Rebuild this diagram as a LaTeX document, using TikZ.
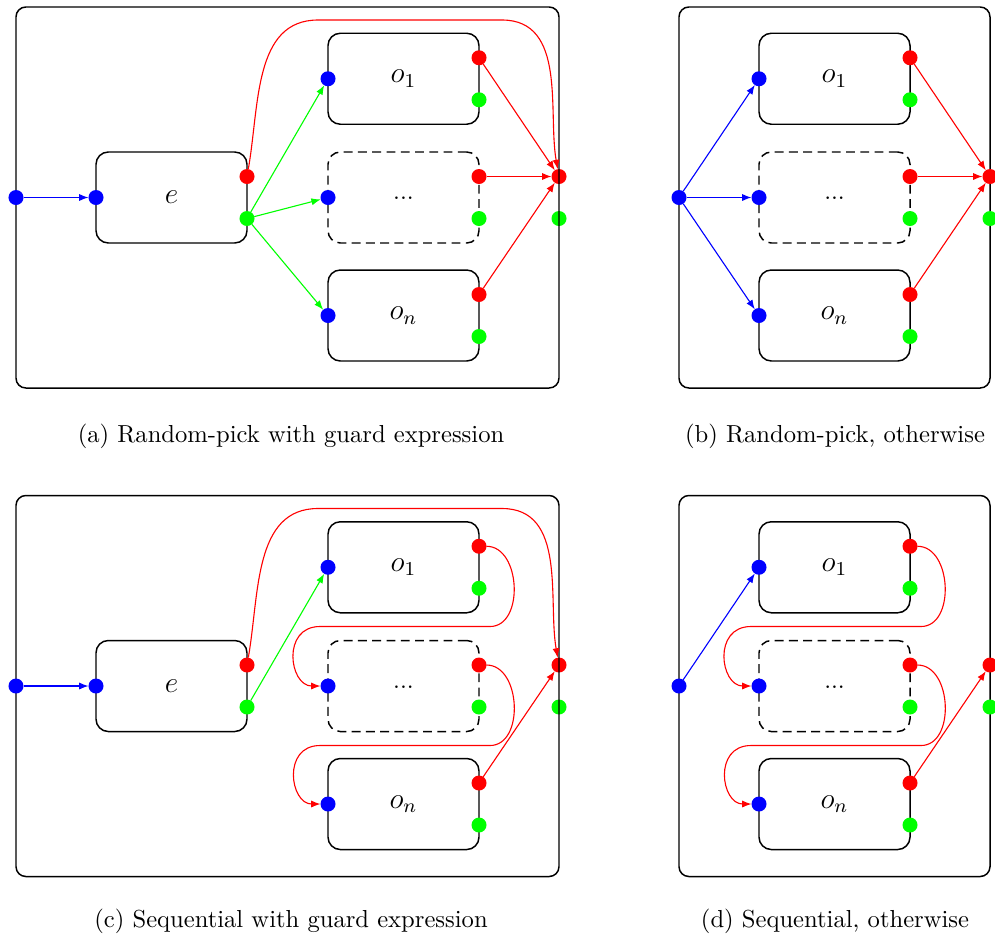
\documentclass[tikz,border=0pt]{standalone}
\usetikzlibrary{arrows.meta,calc}

\tikzset{
  blockbox/.style={draw=black, line width=0.6pt, rounded corners=5pt,
    minimum width=61.38pt, minimum height=36.99pt, inner sep=0pt, outer sep=0pt,
    font=\large},
  ghostbox/.style={blockbox, dash pattern=on 3.6pt off 2.2pt},
  frame/.style={draw=black, line width=0.6pt, rounded corners=4pt},
  port/.style={circle, inner sep=0pt, outer sep=0pt, minimum size=6.1pt, draw=none},
  inport/.style={port, fill=blue},
  okport/.style={port, fill=red},
  failport/.style={port, fill=green},
  flow/.style={line width=0.45pt, -{Latex[length=3.8pt,width=2.9pt]}},
  inflow/.style={flow, blue},
  okflow/.style={flow, red},
  failflow/.style={flow, green},
  caption/.style={inner sep=0pt},
}

% the three option blocks with their ports, plus the outgoing ports of the frame
\newcommand\optionblocks{%
  \node[blockbox] (o1) at (403.5,78.75) {$o_1$};
  \node[ghostbox] (om) at (403.5,197.5) {};
  \node[inner sep=0pt, anchor=base] (om-text) at (403.5,199.5) {...};
  \node[blockbox] (on) at (403.5,315.5) {$o_n$};
  \foreach \b in {o1,om,on}{%
    \node[inport]   (\b-in)   at (\b.west) {};
    \node[okport]   (\b-ok)   at ($(\b.east)+(0,-21)$) {};
    \node[failport] (\b-fail) at ($(\b.east)+(0,21)$) {};
  }
  \node[okport]   (out-ok)   at (559,176.5) {};
  \node[failport] (out-fail) at (559,218.5) {};
}

% guard expression block in front of the options
\newcommand\guardblock{%
  \draw[frame] (16,7) rectangle (559,388);
  \node[blockbox] (e) at (171.5,197.5) {$e$};
  \node[inport]   (e-in)   at (e.west) {};
  \node[okport]   (e-ok)   at ($(e.east)+(0,-21)$) {};
  \node[failport] (e-fail) at ($(e.east)+(0,21)$) {};
  \node[inport]   (start)  at (16,197.5) {};
  \draw[inflow] (start) -- (e-in);
  \coordinate (top-l) at (318,20);
  \coordinate (top-r) at (502,20);
  \draw[okflow] (e-ok) to[out=80,in=180] (top-l) -- (top-r) to[out=0,in=100] (out-ok);
}

% options chained one after another
\newcommand\chain{%
  \coordinate (g1-r) at (490,138);
  \coordinate (g1-l) at (320,138);
  \coordinate (g2-r) at (490,257);
  \coordinate (g2-l) at (320,257);
  \draw[okflow] (o1-ok) to[out=0,in=0,looseness=1.1] (g1-r) -- (g1-l)
    to[out=180,in=180,looseness=1.65] (om-in);
  \draw[okflow] (om-ok) to[out=0,in=0,looseness=1.1] (g2-r) -- (g2-l)
    to[out=180,in=180,looseness=1.65] (on-in);
  \draw[okflow] (on-ok) -- (out-ok);
}

\begin{document}
\begin{tikzpicture}[x=0.4065pt,y=-0.4065pt]
  \useasboundingbox (0,0) rectangle (995,936);

  % (a) random pick, guarded
  \begin{scope}[name prefix=a-]
    \optionblocks
    \guardblock
    \foreach \b in {o1,om,on}{\draw[failflow] (e-fail) -- (\b-in);}
    \foreach \b in {o1,om,on}{\draw[okflow] (\b-ok) -- (out-ok);}
  \end{scope}

  % (b) random pick, otherwise
  \begin{scope}[shift={(431,0)}, name prefix=b-]
    \draw[frame] (248,7) rectangle (559,388);
    \optionblocks
    \node[inport] (start) at (248,197.5) {};
    \foreach \b in {o1,om,on}{\draw[inflow] (start) -- (\b-in);}
    \foreach \b in {o1,om,on}{\draw[okflow] (\b-ok) -- (out-ok);}
  \end{scope}

  % (c) sequential, guarded
  \begin{scope}[shift={(0,488.5)}, name prefix=c-]
    \optionblocks
    \guardblock
    \draw[failflow] (e-fail) -- (o1-in);
    \chain
  \end{scope}

  % (d) sequential, otherwise
  \begin{scope}[shift={(431,488.5)}, name prefix=d-]
    \draw[frame] (248,7) rectangle (559,388);
    \optionblocks
    \node[inport] (start) at (248,197.5) {};
    \draw[inflow] (start) -- (o1-in);
    \chain
  \end{scope}

  \node[caption] (cap-a) at (291,436.5) {(a) Random-pick with guard expression};
  \node[caption] (cap-b) at (835,436.5) {(b) Random-pick, otherwise};
  \node[caption] (cap-c) at (291,921) {(c) Sequential with guard expression};
  \node[caption] (cap-d) at (835,921) {(d) Sequential, otherwise};
\end{tikzpicture}
\end{document}
